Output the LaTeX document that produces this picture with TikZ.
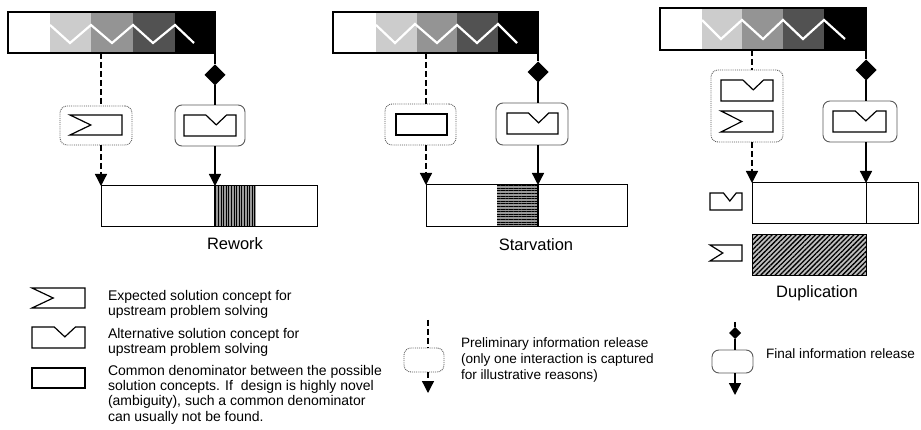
\documentclass[tikz,border=0pt]{standalone}
\usepackage{fontspec}
\setmainfont{Liberation Sans}
\usetikzlibrary{arrows.meta,patterns.meta,shapes.geometric,calc}

% expected solution concept: rectangle with a notch in its left side
\newcommand\expshape[4]{%
  \draw[shp] (#1,#2) -- (#3,#2) -- (#3,#4) -- (#1,#4)
    -- ({#1+0.4*(#3-#1)},{(#2+#4)/2}) -- cycle;}
% alternative solution concept: rectangle with a notch in its top side
\newcommand\altshape[4]{%
  \draw[shp] (#1,#2) -- ({#1+0.42*(#3-#1)},#2)
    -- ({#1+0.62*(#3-#1)},{#2+0.47*(#4-#2)})
    -- ({#1+0.82*(#3-#1)},#2) -- (#3,#2) -- (#3,#4) -- (#1,#4) -- cycle;}
% common denominator: plain rectangle
\newcommand\comshape[4]{\draw[shp] (#1,#2) rectangle (#3,#4);}
% shaded bar of upstream activity
\newcommand\upbar[8]{% x1 y1 x2 y2 s1 s2 s3 s4
  \fill[white] (#1,#2) rectangle (#5,#4);
  \fill[black!20] (#5,#2) rectangle (#6,#4);
  \fill[black!42] (#6,#2) rectangle (#7,#4);
  \fill[black!68] (#7,#2) rectangle (#8,#4);
  \fill[black] (#8,#2) rectangle (#3,#4);}

\newcommand\legfont{\fontsize{14}{15.3}\selectfont}
\newcommand\keyfont{\fontsize{13.6}{16}\selectfont}
\newcommand\capfont{\fontsize{16.5}{19}\selectfont}

\begin{document}
\begin{tikzpicture}[x=1pt,y=-1pt,
  every node/.style={inner sep=0pt,outer sep=0pt},
  shp/.style={line width=1.2pt,line join=miter},
  link/.style={line width=1.3pt},
  tipped/.style={link,-{Triangle[width=12pt,length=12pt]}},
  prelim/.style={dash pattern=on 6pt off 3pt},
  prebox/.style={draw=black!65,densely dotted,line width=0.9pt,rounded corners=7pt},
  finbox/.style={draw=black!65,line width=0.9pt,rounded corners=7pt},
  release/.style={diamond,fill=black,minimum width=21pt,minimum height=21pt},
  smallrelease/.style={diamond,fill=black,minimum width=12pt,minimum height=12pt},
  barframe/.style={draw=black,line width=1.3pt},
  resbar/.style={draw=black,line width=1pt},
  zig/.style={white,line width=2.2pt,line join=miter},
  legtext/.style={font=\legfont,align=left,anchor=north west},
  keytext/.style={font=\keyfont,align=left,anchor=north west},
  caption/.style={font=\capfont,anchor=base}]
\useasboundingbox (0,0) rectangle (921,430);

%% ---------------- Rework ----------------
\upbar{8}{12}{215}{53}{50}{91}{133}{175}
\draw[zig] (50,25) -- (70,43) -- (91,25) -- (112,43) -- (133,25) -- (153,43) -- (175,25) -- (194,43);
\node[barframe,minimum width=207pt,minimum height=41pt] (p1bar) at (111.5,32.5) {};
\coordinate (p1src) at (101,53);
\node[prebox,minimum width=72pt,minimum height=39pt] (p1pre) at (96,125.5) {};
\expshape{70}{115}{122}{135}
\node[release] (p1dia) at (215,75) {};
\node[finbox,minimum width=70pt,minimum height=41pt] (p1fin) at (210,125.5) {};
\altshape{184}{115}{236}{136}
\fill[black!40] (215,186) rectangle (256,227);
\fill[pattern={Lines[angle=90,distance=2.6pt,line width=0.8pt]},pattern color=black] (215,186) rectangle (256,227);
\node[resbar,minimum width=216pt,minimum height=41pt] (p1res) at (209,206.5) {};
\draw[link] (215,186) -- (215,227);
\draw[link,prelim] (p1src) -- (p1pre.north -| p1src);
\draw[tipped,prelim] (p1pre.south -| p1src) -- (p1res.north -| p1src);
\draw[link] (p1bar.south east) -- (p1dia.north);
\draw[link] (p1dia.south) -- (p1fin.north -| p1dia);
\draw[tipped] (p1fin.south -| p1dia) -- (p1res.north -| p1dia);
\node[caption] (p1cap) at (235,250) {Rework};

%% ---------------- Starvation ----------------
\upbar{333}{12}{538}{53}{376}{417}{457}{498}
\draw[zig] (376,25) -- (395,43) -- (415,24) -- (437,43) -- (457,25) -- (477,43) -- (498,24) -- (517,43);
\node[barframe,minimum width=205pt,minimum height=41pt] (p2bar) at (435.5,32.5) {};
\coordinate (p2src) at (426,53);
\node[prebox,minimum width=71pt,minimum height=41pt] (p2pre) at (420.5,124.5) {};
\comshape{396}{114}{447}{135}
\node[release] (p2dia) at (538,72) {};
\node[finbox,minimum width=72pt,minimum height=42pt] (p2fin) at (532,124) {};
\altshape{507}{113}{558}{134}
\fill[black!40] (497,185) rectangle (538,227);
\fill[pattern={Lines[angle=0,distance=2.6pt,line width=0.8pt]},pattern color=black] (497,185) rectangle (538,227);
\node[resbar,minimum width=201pt,minimum height=42pt] (p2res) at (526.5,206) {};
\draw[link] (538,185) -- (538,227);
\draw[link,prelim] (p2src) -- (p2pre.north -| p2src);
\draw[tipped,prelim] (p2pre.south -| p2src) -- (p2res.north -| p2src);
\draw[link] (p2bar.south east) -- (p2dia.north);
\draw[link] (p2dia.south) -- (p2fin.north -| p2dia);
\draw[tipped] (p2fin.south -| p2dia) -- (p2res.north -| p2dia);
\node[caption] (p2cap) at (536,251) {Starvation};

%% ---------------- Duplication ----------------
\upbar{660}{8}{866}{50}{702}{742}{783}{824}
\draw[zig] (702,20) -- (721,39) -- (742,20) -- (763,39) -- (783,20) -- (803,39) -- (824,20) -- (845,39);
\node[barframe,minimum width=206pt,minimum height=42pt] (p3bar) at (763,29) {};
\coordinate (p3src) at (752,50);
\node[prebox,minimum width=72pt,minimum height=72pt] (p3pre) at (747,106) {};
\altshape{721}{80}{773}{101}
\expshape{721}{111}{773}{132}
\node[release] (p3dia) at (866,70) {};
\node[finbox,minimum width=74pt,minimum height=41pt] (p3fin) at (860,121.5) {};
\altshape{833}{111}{886}{132}
\node[resbar,minimum width=166pt,minimum height=41pt] (p3res) at (835,203.5) {};
\draw[resbar] (866,183) -- (866,224);
\altshape{710}{193}{742}{210}
\fill[black!25] (752,235) rectangle (866,276);
\fill[pattern={Lines[angle=45,distance=3.4pt,line width=1.3pt]},pattern color=black] (752,235) rectangle (866,276);
\node[resbar,minimum width=114pt,minimum height=41pt] (p3dup) at (809,255.5) {};
\expshape{710}{245}{742}{261}
\draw[link,prelim] (p3src) -- (p3pre.north -| p3src);
\draw[tipped,prelim] (p3pre.south -| p3src) -- (p3res.north -| p3src);
\draw[link] (p3bar.south east) -- (p3dia.north);
\draw[link] (p3dia.south) -- (p3fin.north -| p3dia);
\draw[tipped] (p3fin.south -| p3dia) -- (p3res.north -| p3dia);
\node[caption] (p3cap) at (817,298) {Duplication};

%% ---------------- Legend ----------------
\expshape{32}{288}{85}{308}
\node[legtext] (lexp) at (108,290) {Expected solution concept for\\upstream problem solving};
\altshape{32}{327}{85}{348}
\node[legtext] (lalt) at (108,328) {Alternative solution concept for\\upstream problem solving};
\comshape{32}{368}{85}{388}
\node[legtext] (lcom) at (108,365) {Common denominator between the possible\\solution concepts. If\ \ design is highly novel\\(ambiguity), such a common denominator\\can usually not be found.};

\coordinate (lp1) at (428,320);
\node[prebox,minimum width=40pt,minimum height=24pt] (lpre) at (424,360) {};
\coordinate (lp2) at (428,393);
\draw[link,prelim] (lp1) -- (lpre.north -| lp1);
\draw[tipped,prelim] (lpre.south -| lp1) -- (lp2);
\node[keytext] (lpretext) at (461,338) {Preliminary information release\\(only one interaction is captured\\for illustrative reasons)};

\coordinate (lf1) at (735,322);
\node[smallrelease] (lfdia) at (735,333) {};
\node[finbox,minimum width=41pt,minimum height=23pt] (lfin) at (732.5,361.5) {};
\coordinate (lf2) at (735,395);
\draw[link] (lf1) -- (lfdia.north);
\draw[link] (lfdia.south) -- (lfin.north -| lfdia);
\draw[tipped] (lfin.south -| lfdia) -- (lf2);
\node[font=\keyfont,anchor=base west] (lfintext) at (766,359) {Final information release};
\end{tikzpicture}
\end{document}
